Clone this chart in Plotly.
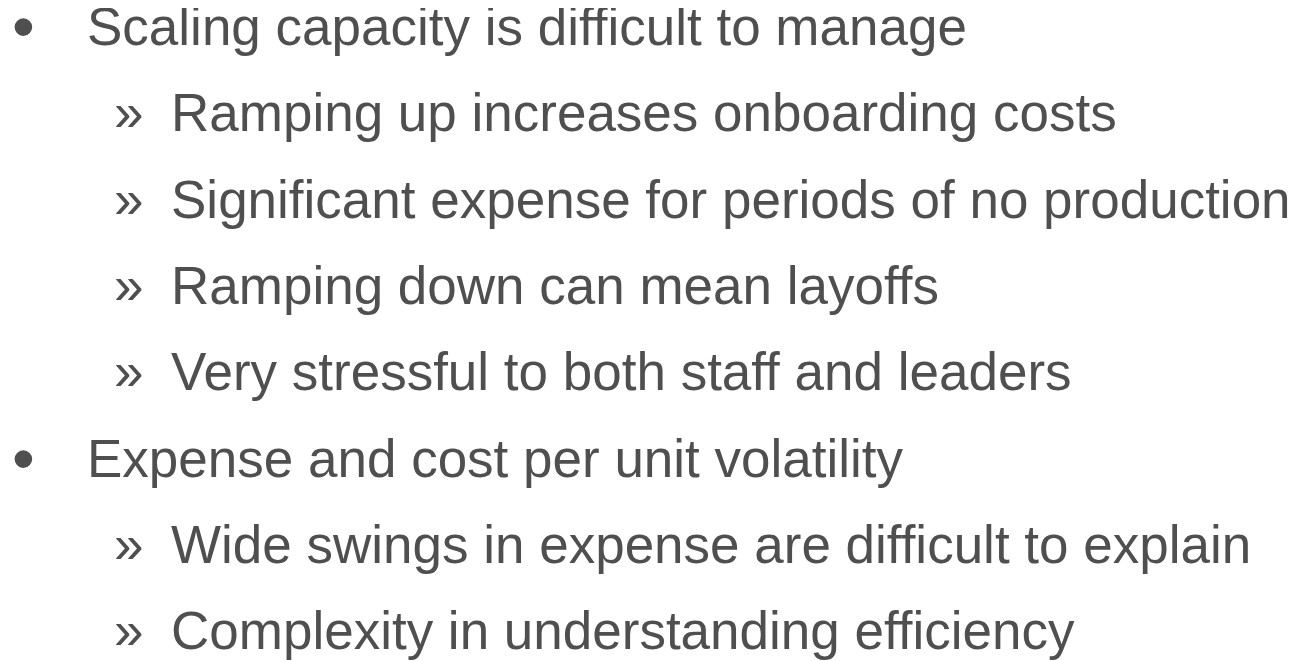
import plotly.graph_objects as go

# Slide content
lines = [
    "Scaling capacity is difficult to manage",
    "Ramping up increases onboarding costs",
    "Significant expense for periods of no production",
    "Ramping down can mean layoffs",
    "Very stressful to both staff and leaders",
    "Expense and cost per unit volatility",
    "Wide swings in expense are difficult to explain",
    "Complexity in understanding efficiency",
]
levels = [1, 2, 2, 2, 2, 1, 2, 2]
baselines = [46, 132, 219, 305, 391, 478, 564, 650]

W, H = 1309, 661
TEXT_COLOR = "#4f4f4f"
FONT = "Liberation Sans, Arial, sans-serif"
FS = 53
DX, DY = -7, -9

annotations = []
for text, lvl, b in zip(lines, levels, baselines):
    yc = b - 0.3465 * FS + DY
    if lvl == 1:
        annotations.append(dict(x=22.5 + DX, y=yc, text="•", xanchor="center", yanchor="middle",
                                showarrow=False, xref="x", yref="y", borderpad=0,
                                font=dict(family=FONT, size=FS + 12, color=TEXT_COLOR)))
        annotations.append(dict(x=85 + DX, y=yc, text=text, xanchor="left", yanchor="middle",
                                showarrow=False, xref="x", yref="y", borderpad=0,
                                font=dict(family=FONT, size=FS, color=TEXT_COLOR)))
    else:
        annotations.append(dict(x=111.5 + DX, y=yc, text="»", xanchor="left", yanchor="middle",
                                showarrow=False, xref="x", yref="y", borderpad=0,
                                font=dict(family=FONT, size=FS, color=TEXT_COLOR)))
        annotations.append(dict(x=169 + DX, y=yc, text=text, xanchor="left", yanchor="middle",
                                showarrow=False, xref="x", yref="y", borderpad=0,
                                font=dict(family=FONT, size=FS, color=TEXT_COLOR)))

fig = go.Figure()
fig.add_trace(go.Scatter(x=[0, W], y=[0, H], mode="markers", marker=dict(opacity=0),
                         hoverinfo="skip", showlegend=False))
fig.update_layout(
    width=W, height=H,
    margin=dict(l=0, r=0, t=0, b=0),
    paper_bgcolor="white", plot_bgcolor="white",
    xaxis=dict(range=[0, W], visible=False, fixedrange=True),
    yaxis=dict(range=[H, 0], visible=False, fixedrange=True),
    annotations=annotations,
    showlegend=False,
)
fig.write_html("out.html", config={"displayModeBar": False})
